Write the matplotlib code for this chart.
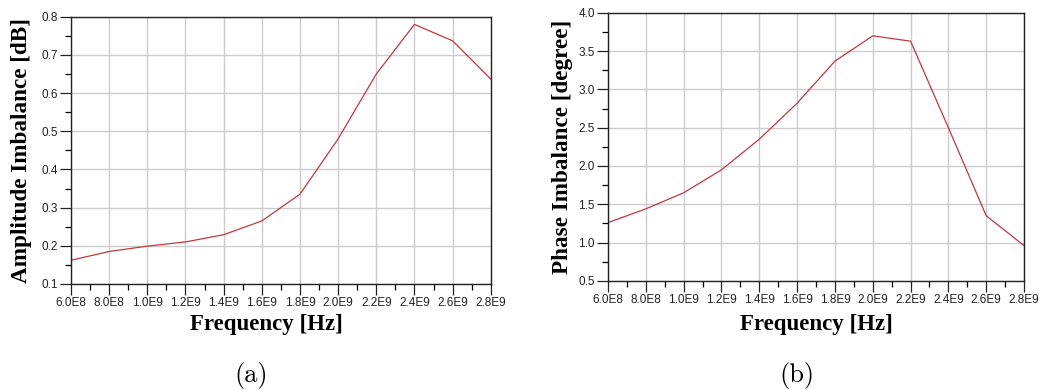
import numpy as np
import matplotlib
matplotlib.use('Agg')
import matplotlib.pyplot as plt
from matplotlib.ticker import MultipleLocator, FuncFormatter

freq = [0.6e9, 0.8e9, 1.0e9, 1.2e9, 1.4e9, 1.6e9, 1.8e9, 2.0e9, 2.2e9, 2.4e9, 2.6e9, 2.8e9]
amp_imb = [0.162, 0.185, 0.199, 0.210, 0.229, 0.265, 0.335, 0.480, 0.650, 0.780, 0.737, 0.637]
phase_imb = [1.26, 1.44, 1.65, 1.95, 2.35, 2.82, 3.37, 3.70, 3.63, 2.50, 1.35, 0.96]

line_col = '#c0393b'
grid_col = '#cccccc'

def sci(v, pos):
    m, e = ('%.1E' % v).split('E')
    return '%sE%d' % (m, int(e))

fig = plt.figure(figsize=(10.52, 3.9), dpi=100)
ax1 = fig.add_axes([0.0675, 0.272, 0.399, 0.685])
ax2 = fig.add_axes([0.578, 0.280, 0.3954, 0.687])

panels = [
    (ax1, amp_imb, (0.1, 0.8), 0.1, 'Amplitude Imbalance [dB]', 7, '(a)', 0.2529, 0.2386),
    (ax2, phase_imb, (0.5, 4.0), 0.5, 'Phase Imbalance [degree]', 4, '(b)', 0.7757, 0.7576),
]

for ax, vals, ylim, ystep, ylab, ypad, tag, xl_x, tag_x in panels:
    ax.plot(freq, vals, color=line_col, lw=0.9)
    ax.set_xlim(0.6e9, 2.8e9)
    ax.set_ylim(*ylim)
    ax.xaxis.set_major_locator(MultipleLocator(0.2e9))
    ax.xaxis.set_minor_locator(MultipleLocator(0.1e9))
    ax.yaxis.set_major_locator(MultipleLocator(ystep))
    ax.yaxis.set_minor_locator(MultipleLocator(ystep / 2))
    ax.xaxis.set_major_formatter(FuncFormatter(sci))
    ax.yaxis.set_major_formatter(FuncFormatter(lambda v, p: '%.1f' % v))
    ax.grid(True, which='major', color=grid_col, lw=1.0)
    ax.set_axisbelow(True)
    ax.tick_params(which='major', direction='out', length=8, width=0.9,
                   labelsize=8.5, pad=1.5, colors='#222222')
    ax.tick_params(which='minor', direction='out', length=4.5, width=0.9)
    for lbl in ax.get_xticklabels() + ax.get_yticklabels():
        lbl.set_family('Liberation Sans')
    for sp in ax.spines.values():
        sp.set_color('#222222')
        sp.set_linewidth(1.0)
    ax.set_ylabel(ylab, family='Liberation Serif', fontweight='bold',
                  fontsize=16.7, labelpad=ypad)
    fig.text(xl_x, 0.167, 'Frequency [Hz]', ha='center', va='center',
             family='Liberation Serif', fontweight='bold', fontsize=16.5)
    fig.text(tag_x, 0.038, tag, ha='center', va='center',
             family='cmr10', fontsize=19)

fig.savefig('out.png', dpi=100, facecolor='white')
